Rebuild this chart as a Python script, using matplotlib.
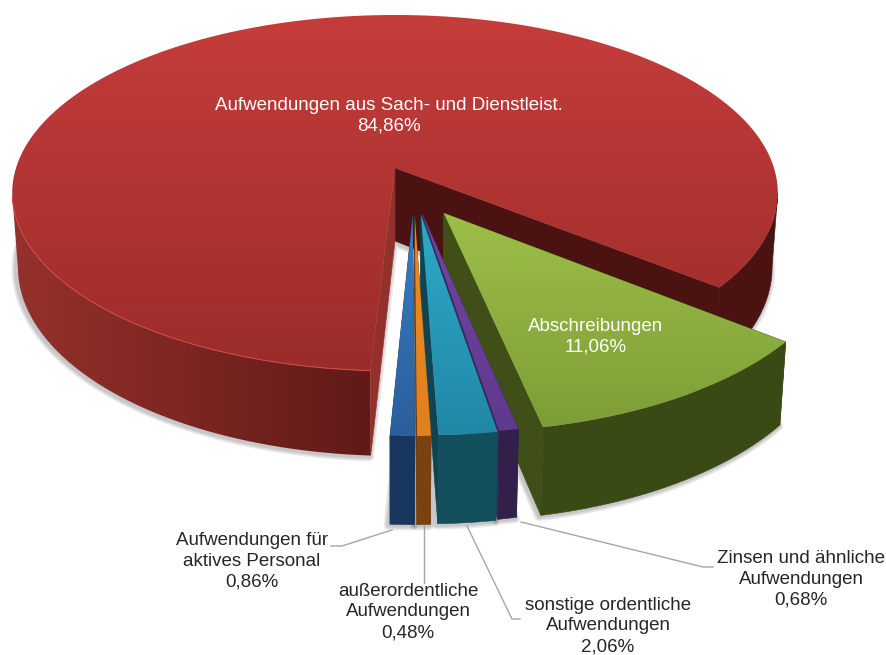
import numpy as np
import matplotlib
matplotlib.use("Agg")
import matplotlib.pyplot as plt
from matplotlib.colors import to_rgb
from matplotlib.patches import Polygon

# Data
categories = ["Abschreibungen",
              "Zinsen und ähnliche\nAufwendungen",
              "sonstige ordentliche\nAufwendungen",
              "außerordentliche\nAufwendungen",
              "Aufwendungen für\naktives Personal",
              "Aufwendungen aus Sach- und Dienstleist."]
values = [11.06, 0.68, 2.06, 0.48, 0.86, 84.86]

# Styles, same order as categories: top start, top end, wall, inner wall
top_start = ["#9dbf48", "#7244a6", "#2fa9c9", "#ea8d22", "#3b7cc4", "#c53d3b"]
top_end = ["#7d9e37", "#5f3a8c", "#2088a6", "#e0801e", "#2a5f9c", "#9b2c2a"]
wall_color = ["#3a4a15", "#321f4a", "#124e5c", "#7a420e", "#17375e", "#4a1210"]
inner_color = ["#404f18", "#3e2860", "#0f4452", "#6a390c", "#17375e", "#4a1210"]

# Shift of each slice away from the centre, in pie radius units
explode_x = [0.124, 0.070, 0.066, 0.050, 0.045, 0.0]
explode_y = [-0.249, -0.256, -0.260, -0.263, -0.263, 0.0]

# Label placement
label_x = [596, 801, 608, 408, 252, 389]
label_y = [337, 579, 626, 612, 561, 116]
label_color = ["white", "#262626", "#262626", "#262626", "#262626", "white"]

# Leader lines
leader_x = [None, [521, 703, 713], [467, 512, 520], [424, 424], [392, 342, 331], None]
leader_y = [None, [522, 567, 567], [526, 619, 619], [525, 583], [530, 546, 546], None]

start_angle = 128.7
cx, cy = 395, 168
scale_x, scale_y = 379, 174.5
persp = 0.1404
depth = 73


def project(X, Y):
    w = 1 + persp * Y
    return cx + scale_x * X / w, cy - scale_y * Y / w


def project_bottom(X, Y):
    x, y = project(X, Y)
    w = 1 + persp * Y
    return cx + (x - cx) * 0.985, y + depth / w


def rim(a0, a1, ox, oy, n=120):
    ang = np.radians(np.linspace(a0, a1, n))
    return np.sin(ang) + ox, np.cos(ang) + oy


def stack(xy):
    return np.column_stack(xy)


def clipped_image(ax, img, pts, zorder):
    y0, y1 = pts[:, 1].min(), pts[:, 1].max()
    x0, x1 = pts[:, 0].min(), pts[:, 0].max()
    im = ax.imshow(img, extent=[x0, x1, y1, y0], aspect="auto", zorder=zorder, interpolation="bilinear")
    clip = Polygon(pts, closed=True, transform=ax.transData, fc="none", ec="none")
    ax.add_patch(clip)
    im.set_clip_path(clip)


def gradient_poly(ax, pts, c0, c1, zorder):
    # vertical gradient clipped by the polygon
    t = np.linspace(0, 1, 256)[:, None, None]
    img = np.array(to_rgb(c0))[None, None, :] * (1 - t) + np.array(to_rgb(c1))[None, None, :] * t
    clipped_image(ax, img, pts, zorder)


def red_wall(ax, pts, zorder):
    # horizontal shading of the left part of the red outer wall
    xs = np.linspace(pts[:, 0].min(), pts[:, 0].max(), 400)
    t = np.clip((xs - 12) / (368 - 12), 0, 1)[:, None]
    col = np.array(to_rgb("#96312b")) * (1 - t) + np.array(to_rgb("#611a18")) * t
    clipped_image(ax, col[None, :, :], pts, zorder)


def fill(ax, pts, color, zorder):
    ax.add_patch(Polygon(pts, closed=True, fc=color, ec=color, lw=0.4, zorder=zorder))


fig = plt.figure(figsize=(8.87, 6.55), dpi=100)
plt.rcParams["font.family"] = ["Liberation Sans", "DejaVu Sans"]
ax = fig.add_axes([0, 0, 1, 1])

angles = start_angle + np.concatenate([[0], np.cumsum(values)]) * 3.6

# soft shadow under the bottom faces
for i in range(len(values)):
    a0, a1 = angles[i], angles[i + 1]
    X, Y = rim(a0, a1, explode_x[i], explode_y[i], 240)
    X = np.concatenate([[explode_x[i]], X])
    Y = np.concatenate([[explode_y[i]], Y])
    pts = stack(project_bottom(X, Y)) + np.array([-1.5, 1.0])
    for lw in [7, 5, 3]:
        ax.add_patch(Polygon(pts, closed=True, fc="none", ec=(0, 0, 0, 0.08), lw=lw,
                             joinstyle="round", zorder=1))

# leader lines
for i in range(len(values)):
    if leader_x[i] is not None:
        ax.plot(leader_x[i], leader_y[i], color="#a6a6a6", lw=1.0, zorder=2)

# big slice is drawn first, then the others from right to left
draw_order = [5, 0, 1, 2, 3, 4]
z = 3
for i in draw_order:
    a0, a1 = angles[i], angles[i + 1]
    ox, oy = explode_x[i], explode_y[i]
    X, Y = rim(a0, a1, ox, oy, 360 if i == 5 else 60)
    apex_top = np.array(project(ox, oy))
    apex_bot = np.array(project_bottom(ox, oy))
    top = stack(project(X, Y))
    bot = stack(project_bottom(X, Y))

    if i == 5:
        # front parts of the wall, up to the widest points of the rim
        ang = np.linspace(a0, a1, len(top))
        left = ang <= 262
        right = ang >= 458
        red_wall(ax, np.vstack([top[left], bot[left][::-1]]), z)
        fill(ax, np.vstack([top[right], bot[right][::-1]]), wall_color[i], z)
        z += 1
        # cut faces of the wedge
        fill(ax, np.array([apex_top, top[-1], bot[-1], apex_bot]), inner_color[i], z)
        fill(ax, np.array([apex_top, top[0], bot[0], apex_bot]), "#93302c", z)
        z += 1
    else:
        # inner faces, then the outer wall
        fill(ax, np.array([apex_top, top[-1], bot[-1], apex_bot]), inner_color[i], z)
        fill(ax, np.array([apex_top, top[0], bot[0], apex_bot]), inner_color[i], z)
        z += 1
        fill(ax, np.vstack([top, bot[::-1]]), wall_color[i], z)
        z += 1

    face = np.vstack([apex_top, top])
    gradient_poly(ax, face, top_start[i], top_end[i], z)
    z += 1
    if i == 5:
        # light edge along the front rim
        mask = (top[:, 1] > 195) & (top[:, 0] < cx)
        ax.plot(top[mask, 0], top[mask, 1], color="#c94a46", lw=0.8, zorder=z)
        z += 1

# labels
for i in range(len(values)):
    txt = categories[i] + "\n" + f"{values[i]:.2f}".replace(".", ",") + "%"
    ax.text(label_x[i], label_y[i], txt, ha="center", va="center", color=label_color[i],
            fontsize=13.5, linespacing=1.28, zorder=z + 1)

ax.set_xlim(0, 887)
ax.set_ylim(655, 0)
ax.axis("off")

fig.savefig("out.png", dpi=100, facecolor="white")
